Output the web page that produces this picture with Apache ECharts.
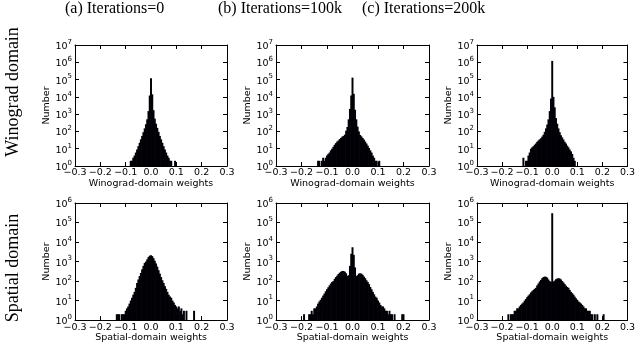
<!DOCTYPE html>
<html>
<head>
<meta charset="utf-8">
<script src="https://cdn.jsdelivr.net/npm/echarts@6/dist/echarts.min.js"></script>
<style>
html, body { margin: 0; padding: 0; background: #fff; }
#main { width: 638px; height: 344px; }
</style>
</head>
<body>
<div id="main"></div>
<script>
var BIN = 0.005;

var titles = ['(a) Iterations=0', '(b) Iterations=100k', '(c) Iterations=200k'];
var rowNames = ['Winograd domain', 'Spatial domain'];
var xNames = ['Winograd-domain weights', 'Spatial-domain weights'];
var yTopExp = [7, 6];

// histogram counts, one value per 0.005-wide bin, first bin centre given by *Start
var winoIt0Start = -0.085;
var winoIt0 = [1, 2, 2, 3, 4, 6, 9, 14, 22, 35, 55, 90, 150, 260, 500, 1500, 12000,
  120000,
  14000, 1700, 550, 280, 160, 95, 55, 35, 22, 14, 9, 6, 4, 3, 2, 2, 1, 1, 2];

var winoIt100kStart = -0.135;
var winoIt100k = [2, 2, 0, 2, 3, 2, 3, 4, 5, 6, 8, 10, 13, 17, 21, 26, 30, 36, 42, 50,
  55, 65, 110, 180, 500, 2000, 12000,
  130000,
  15000, 1800, 500, 190, 100, 62, 52, 42, 34, 26, 20, 15, 11, 8, 6, 4, 3, 2, 2, 1, 2, 1];

var winoIt200kStart = -0.115;
var winoIt200k = [3, 0, 2, 2, 4, 6, 10, 12, 14, 17, 20, 25, 30, 35, 40, 50, 65, 95, 150,
  250, 500, 1500, 8000,
  1200000,
  10000, 2500, 600, 280, 150, 90, 60, 45, 34, 25, 20, 15, 12, 9, 7, 5, 3, 2];

var spatIt0Start = -0.135;
var spatIt0 = [2, 2, 2, 1, 2, 2, 2, 3, 4, 5, 7, 10, 14, 20, 28, 45, 80, 120, 180, 260,
  400, 600, 850, 1000, 1300, 1700, 2000,
  2100,
  1900, 1500, 1100, 800, 550, 360, 240, 160, 110, 80, 55, 40, 28, 20, 16, 14, 10, 8, 6,
  5, 4, 5, 3, 4, 2, 3, 1, 3, 0, 0, 0, 0, 0, 3];

var spatIt100kStart = -0.19;
var spatIt100k = [2, 0, 0, 1, 2, 2, 3, 2, 4, 4, 5, 7, 9, 11, 14, 18, 23, 30, 38, 48,
  60, 75, 90, 100, 130, 160, 190, 230, 270, 300, 330, 330, 300, 250, 180, 200, 600, 2500,
  5400,
  2200, 500, 180, 200, 240, 250, 240, 210, 170, 140, 110, 90, 70, 50, 38, 28, 21, 16,
  14, 10, 8, 6, 5, 5, 4, 3, 3, 2, 3, 2, 2, 1, 2, 0, 0, 0, 0, 0, 2, 2];

var spatIt200kStart = -0.18;
var spatIt200k = [1, 2, 0, 2, 2, 2, 3, 3, 4, 4, 5, 6, 7, 8, 10, 12, 15, 18, 21, 26,
  30, 35, 40, 45, 60, 75, 95, 115, 140, 160, 170, 165, 150, 120, 100, 90,
  300000,
  95, 105, 125, 135, 140, 135, 120, 100, 85, 70, 58, 50, 45, 35, 28, 24, 20, 16, 13, 11,
  9, 8, 7, 6, 5, 4, 4, 3, 3, 3, 2, 2, 1, 2, 1, 2, 0, 1, 0, 0, 2];

var panels = [
  { row: 0, col: 0, start: winoIt0Start, counts: winoIt0 },
  { row: 0, col: 1, start: winoIt100kStart, counts: winoIt100k },
  { row: 0, col: 2, start: winoIt200kStart, counts: winoIt200k },
  { row: 1, col: 0, start: spatIt0Start, counts: spatIt0 },
  { row: 1, col: 1, start: spatIt100kStart, counts: spatIt100k },
  { row: 1, col: 2, start: spatIt200kStart, counts: spatIt200k }
];

// layout
var colLeft = [75, 276, 477];
var colWidth = [152, 153, 154];
var rowTop = [45, 203];
var rowHeight = [121, 120];

var FONT = 'DejaVu Sans';
var SERIF = 'Liberation Serif';
var INK = '#000';
var BAR = '#000006';

function xLabel(v) {
  var r = Math.round(v * 10) / 10;
  return (r < 0 ? '\u2212' : '') + Math.abs(r).toFixed(1);
}
function yLabel(v) {
  return '{b|10}{s|' + Math.round(Math.log(v) / Math.LN10) + '}';
}

function renderBar(params, api) {
  var x = api.value(0), n = api.value(1);
  if (!(n >= 1)) return null;
  var p0 = api.coord([x - BIN / 2, n]);
  var p1 = api.coord([x + BIN / 2, 1]);
  var cs = params.coordSys;
  // small overlap so neighbouring bins merge without seams
  var shape = echarts.graphic.clipRectByRect(
    { x: p0[0] - 0.35, y: p0[1], width: p1[0] - p0[0] + 0.7, height: Math.max(p1[1] - p0[1], 0.6) },
    { x: cs.x, y: cs.y, width: cs.width, height: cs.height });
  if (!shape) return null;
  return {
    type: 'rect',
    shape: shape,
    style: { fill: BAR }
  };
}

var grid = [], xAxis = [], yAxis = [], series = [];
panels.forEach(function (p, k) {
  grid.push({ left: colLeft[p.col], top: rowTop[p.row], width: colWidth[p.col], height: rowHeight[p.row] });
  var line = { show: true, onZero: false, lineStyle: { color: INK, width: 1 } };
  var tick = { show: true, inside: true, length: 4, lineStyle: { color: INK, width: 1 } };
  xAxis.push({
    type: 'value', gridIndex: k, min: -0.3, max: 0.3, interval: 0.1, position: 'bottom',
    axisLine: line, axisTick: tick, splitLine: { show: false },
    axisLabel: { formatter: xLabel, color: INK, fontFamily: FONT, fontSize: 9.5, margin: 2 },
    name: xNames[p.row], nameLocation: 'middle', nameGap: 12,
    nameTextStyle: { color: INK, fontFamily: FONT, fontSize: 9.5 }
  });
  xAxis.push({
    type: 'value', gridIndex: k, min: -0.3, max: 0.3, interval: 0.1, position: 'top',
    axisLine: line, axisTick: tick, splitLine: { show: false }, axisLabel: { show: false }
  });
  var yMax = Math.pow(10, yTopExp[p.row]);
  yAxis.push({
    type: 'log', logBase: 10, gridIndex: k, min: 1, max: yMax, splitNumber: yTopExp[p.row],
    position: 'left',
    axisLine: line, axisTick: tick, splitLine: { show: false },
    axisLabel: {
      formatter: yLabel, color: INK, fontFamily: FONT, margin: 3,
      rich: {
        b: { fontSize: 9.5, fontFamily: FONT, color: INK, verticalAlign: 'bottom', lineHeight: 13 },
        s: { fontSize: 7, fontFamily: FONT, color: INK, verticalAlign: 'top', lineHeight: 13 }
      }
    },
    name: 'Number', nameLocation: 'middle', nameGap: 23,
    nameTextStyle: { color: INK, fontFamily: FONT, fontSize: 9.5 }
  });
  yAxis.push({
    type: 'log', logBase: 10, gridIndex: k, min: 1, max: yMax, splitNumber: yTopExp[p.row],
    position: 'right',
    axisLine: line, axisTick: tick, splitLine: { show: false }, axisLabel: { show: false }
  });
  var data = [];
  p.counts.forEach(function (c, i) {
    if (c >= 1) data.push([Math.round((p.start + i * BIN) * 1000) / 1000, c]);
  });
  series.push({
    type: 'custom', xAxisIndex: 2 * k, yAxisIndex: 2 * k,
    renderItem: renderBar, data: data, silent: true, animation: false
  });
});

var titleLeft = [65, 218, 362];
var title = titles.map(function (t, i) {
  return {
    text: t, left: titleLeft[i], top: 1, padding: 0,
    textStyle: { fontFamily: SERIF, fontWeight: 'normal', fontSize: 16, color: INK }
  };
});

var rowCenterY = [92, 268];
var graphic = rowNames.map(function (t, i) {
  return {
    type: 'text', x: 13, y: rowCenterY[i], rotation: Math.PI / 2,
    style: {
      text: t, fontFamily: SERIF, fontSize: 18, fill: INK,
      textAlign: 'center', textVerticalAlign: 'middle'
    }
  };
});

var myChart = echarts.init(document.getElementById('main'));
myChart.setOption({
  animation: false,
  backgroundColor: '#fff',
  title: title,
  graphic: graphic,
  grid: grid,
  xAxis: xAxis,
  yAxis: yAxis,
  series: series
});
</script>
</body>
</html>
